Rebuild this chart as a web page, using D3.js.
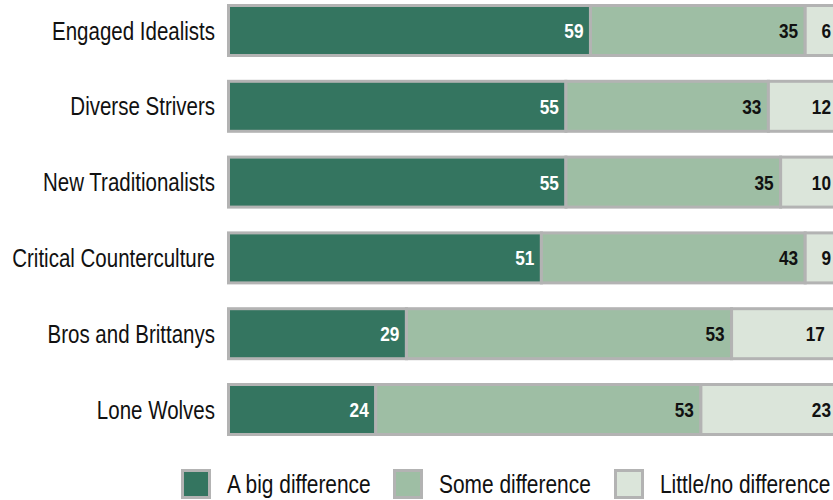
<!DOCTYPE html>
<html>
<head>
<meta charset="utf-8">
<script src="https://cdn.jsdelivr.net/npm/d3@7"></script>
<style>
  html, body { margin: 0; padding: 0; background: #fff; overflow: hidden; }
  svg { display: block; }
</style>
</head>
<body>
<svg id="chart" width="833" height="500"></svg>
<script>
// Segments and their values
const categories = ["Engaged Idealists", "Diverse Strivers", "New Traditionalists",
                    "Critical Counterculture", "Bros and Brittanys", "Lone Wolves"];
const bigDifference = [59, 55, 55, 51, 29, 24];
const someDifference = [35, 33, 35, 43, 53, 53];
const littleDifference = [6, 12, 10, 9, 17, 23];
const seriesNames = ["A big difference", "Some difference", "Little/no difference"];
const seriesColors = ["#347560", "#9ebea4", "#dbe5da"];
const labelColors = ["#ffffff", "#111111", "#111111"];

const rows = categories.map((c, i) => ({
  category: c,
  values: [bigDifference[i], someDifference[i], littleDifference[i]]
}));

// Condensed sans: regular face squeezed horizontally
const FONT = "'Liberation Sans', Arial, sans-serif";
const NARROW = 0.82;
const narrowAt = (px, py) => `translate(${px},${py}) scale(${NARROW},1)`;

const svg = d3.select("#chart");
const barH = 50;
const x = d3.scaleLinear().domain([0, 100]).range([228.5, 842]);
const y = d3.scalePoint().domain(categories).range([30.5, 409.5]);
const outline = "#b3b3b3";

// Stacked segments
const rowG = svg.selectAll("g.row").data(rows).join("g")
  .attr("class", "row")
  .attr("transform", d => `translate(0,${y(d.category)})`);

rowG.each(function(d) {
  const g = d3.select(this);
  let acc = 0;
  const segs = d.values.map((v, k) => {
    const s = { k, v, x0: acc, x1: acc + v };
    acc += v;
    return s;
  });
  g.selectAll("rect").data(segs).join("rect")
    .attr("x", s => x(s.x0))
    .attr("y", -barH / 2)
    .attr("width", s => x(s.x1) - x(s.x0))
    .attr("height", barH)
    .attr("fill", s => seriesColors[s.k])
    .attr("stroke", outline)
    .attr("stroke-width", 3);
  g.selectAll("text.val").data(segs).join("text")
    .attr("class", "val")
    .attr("transform", s => narrowAt(s.k === 2 ? Math.min(x(s.x1), x(100)) - 11 : x(s.x1) - 7, 0))
    .attr("dy", "0.36em")
    .attr("text-anchor", "end")
    .attr("fill", s => labelColors[s.k])
    .style("font-family", FONT)
    .style("font-weight", "bold")
    .style("font-size", "21px")
    .text(s => s.v);
});

// Category labels
svg.selectAll("text.cat").data(categories).join("text")
  .attr("class", "cat")
  .attr("transform", d => narrowAt(215, y(d)))
  .attr("dy", "0.36em")
  .attr("text-anchor", "end")
  .attr("fill", "#111")
  .style("font-family", FONT)
  .style("font-size", "25px")
  .text(d => d);

// Legend
const legendX = [182.5, 394.5, 615.5];
const legend = svg.selectAll("g.legend").data(seriesNames).join("g")
  .attr("class", "legend")
  .attr("transform", (d, i) => `translate(${legendX[i]},470.5)`);
legend.append("rect")
  .attr("width", 27).attr("height", 27)
  .attr("fill", (d, i) => seriesColors[i])
  .attr("stroke", outline)
  .attr("stroke-width", 3);
legend.append("text")
  .attr("transform", narrowAt(44.5, 13.5))
  .attr("dy", "0.36em")
  .attr("fill", "#111")
  .style("font-family", FONT)
  .style("font-size", "25.5px")
  .text(d => d);
</script>
</body>
</html>
